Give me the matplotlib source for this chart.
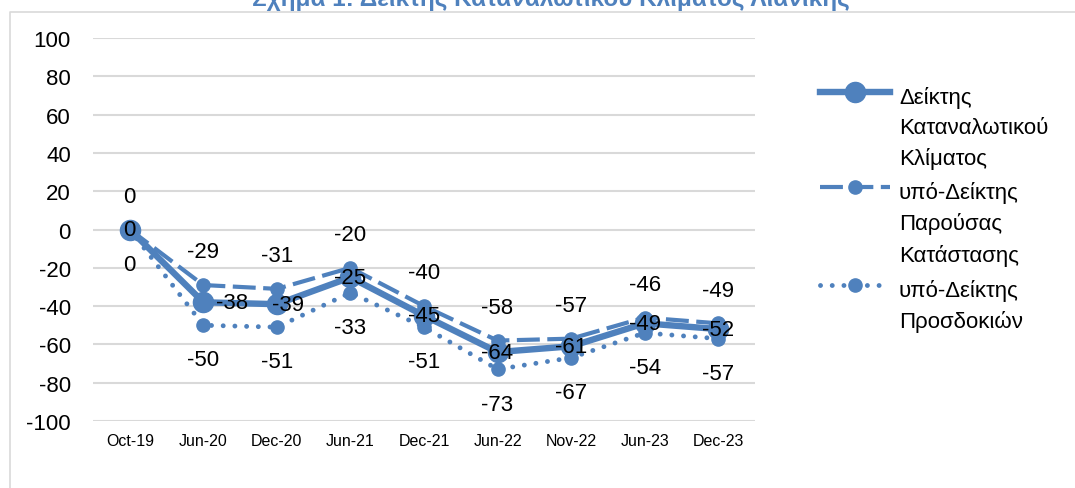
import matplotlib
matplotlib.use("Agg")
import matplotlib.pyplot as plt
from matplotlib.lines import Line2D

plt.rcParams['font.family'] = ['Liberation Sans', 'DejaVu Sans']
plt.rcParams['axes.unicode_minus'] = False

# data
periods = ["Oct-19", "Jun-20", "Dec-20", "Jun-21", "Dec-21", "Jun-22", "Nov-22", "Jun-23", "Dec-23"]
climate = [0, -38, -39, -25, -45, -64, -61, -49, -52]
present = [0, -29, -31, -20, -40, -58, -57, -46, -49]
expect = [0, -50, -51, -33, -51, -73, -67, -54, -57]
names = ["Δείκτης\nΚαταναλωτικού\nΚλίματος",
         "υπό-Δείκτης\nΠαρούσας\nΚατάστασης",
         "υπό-Δείκτης\nΠροσδοκιών"]
title = "Σχήμα 1: Δείκτης Καταναλωτικού Κλίματος Λιανικής"

blue = "#4F81BD"
W, H = 1075, 489

fig = plt.figure(figsize=(W / 100, H / 100), dpi=100)
ax = fig.add_axes([93 / W, 1 - 422 / H, 662 / W, 383 / H])

x = list(range(len(periods)))

styles = [
    dict(color=blue, lw=4.6, ls='-', marker='o', ms=14.5, zorder=5),
    dict(color=blue, lw=3, ls=(0, (5.5, 1.8)), marker='o', ms=9.5, zorder=4),
    dict(color=blue, lw=3.5, ls=(0, (0.01, 2.4)), dash_capstyle='round', marker='o', ms=9.5, zorder=3),
]
for vals, st in zip([climate, present, expect], styles):
    ax.plot(x, vals, **st)

# labels: main centered (two nudged right), present above, expectations below
nudge = {1: 21, 2: 8}
for i, v in enumerate(climate):
    ax.annotate(str(v), (i, v), xytext=(nudge.get(i, 0), 0), textcoords='offset points',
                ha='center', va='center', fontsize=16, zorder=10)
for i, v in enumerate(present):
    ax.annotate(str(v), (i, v), xytext=(0, 24), textcoords='offset points',
                ha='center', va='center', fontsize=16, zorder=10)
for i, v in enumerate(expect):
    ax.annotate(str(v), (i, v), xytext=(0, -25), textcoords='offset points',
                ha='center', va='center', fontsize=16, zorder=10)

ax.set_xlim(-0.5, len(periods) - 0.5)
ax.set_ylim(-100, 100)
ax.set_yticks(range(-100, 101, 20))
ax.set_xticks(x)
ax.set_xticklabels(periods, fontsize=11.5)
ax.tick_params(axis='y', length=0, pad=16, labelsize=16)
ax.tick_params(axis='x', length=0, pad=9)
ax.grid(axis='y', color='#d9d9d9', lw=1.5)
ax.set_axisbelow(True)
for s in ax.spines.values():
    s.set_visible(False)

# legend drawn by hand so the handle sits on the first text line
leg_y = [93, 188, 286]
for st, name, yy in zip(styles, names, leg_y):
    yf = 1 - yy / H
    st2 = dict(st)
    st2.pop('zorder')
    fig.add_artist(Line2D([820 / W, 855 / W, 890 / W], [yf, yf, yf], markevery=[1],
                          transform=fig.transFigure, **st2))
    fig.text(899 / W, 1 - (yy - 6) / H, name, fontsize=16, va='top', ha='left', linespacing=1.55)

# chart frame and clipped title
fig.add_artist(Line2D([10 / W, 10 / W, 1.0], [0, 1 - 12.5 / H, 1 - 12.5 / H],
                      transform=fig.transFigure, color='#d9d9d9', lw=1.2))
fig.text(551 / W, 1 - 6 / H, title, fontsize=17.5, fontweight='bold', color=blue,
         ha='center', va='baseline')

fig.savefig("out.png", dpi=100)
